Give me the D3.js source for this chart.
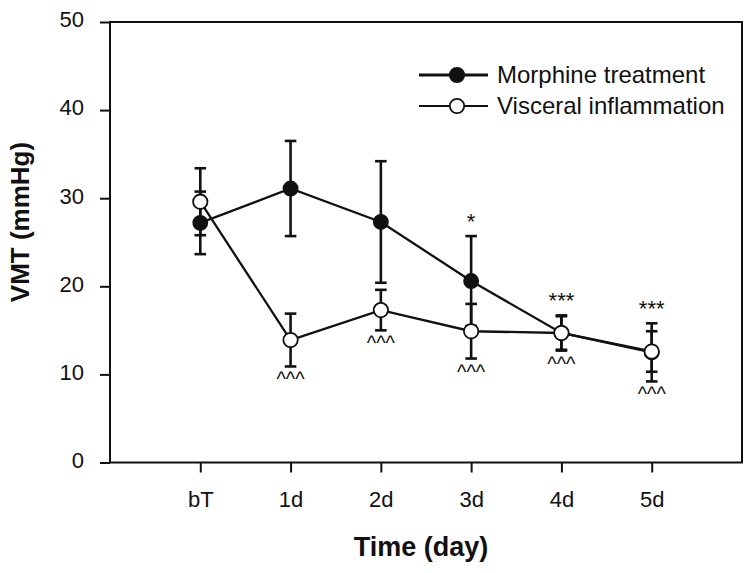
<!DOCTYPE html>
<html><head><meta charset="utf-8">
<script src="https://cdn.jsdelivr.net/npm/d3@7/dist/d3.min.js"></script>
<style>body{margin:0;background:#fff}svg{display:block}text{font-family:"Liberation Sans",Arial,sans-serif;fill:#111}</style>
</head><body><svg id="c" width="754" height="573"></svg>
<script>
const categories = ["bT","1d","2d","3d","4d","5d"];
const morphineMean = [27.2, 31.1, 27.3, 20.6, 14.7, 12.5];
const morphineErr  = [3.55, 5.4, 6.9, 5.1, 2.0, 3.3];
const visceralMean = [29.6, 13.9, 17.3, 14.9, 14.7, 12.6];
const visceralErr  = [3.8, 3.0, 2.3, 3.1, 1.9, 2.3];
const morphineSig  = ["", "", "", "*", "***", "***"];
const visceralSig  = ["", "^^^", "^^^", "^^^", "^^^", "^^^"];
const yTicks = [0, 10, 20, 30, 40, 50];
const seriesNames = ["Morphine treatment", "Visceral inflammation"];

const svg = d3.select("#c");
const L = 110, R = 742, T = 22, B = 462.5;
const x = d3.scaleLinear().domain([-1, 6]).range([L, R]);
const y = d3.scaleLinear().domain([0, 50]).range([B, T]);
const idx = categories.map((c,i)=>i);
const FONT = "Liberation Sans, Arial, sans-serif";

// frame
svg.append("rect").attr("x",L).attr("y",T).attr("width",R-L).attr("height",B-T)
  .attr("fill","none").attr("stroke","#111").attr("stroke-width",2);

// y axis
const ya = svg.append("g").attr("transform",`translate(${L},0)`)
  .call(d3.axisLeft(y).tickValues(yTicks).tickSize(10).tickPadding(16).tickFormat(d3.format("d")));
ya.select(".domain").remove();
ya.selectAll("line").attr("stroke","#111").attr("stroke-width",2);
ya.selectAll("text").attr("font-size",22).attr("dy","0.22em").style("font-family",FONT).attr("fill","#111");

// x axis
const xa = svg.append("g").attr("transform",`translate(0,${B})`)
  .call(d3.axisBottom(x).tickValues(idx).tickSize(10).tickPadding(19).tickFormat(i=>categories[i]));
xa.select(".domain").remove();
xa.selectAll("line").attr("stroke","#111").attr("stroke-width",2);
xa.selectAll("text").attr("font-size",22).style("font-family",FONT).attr("fill","#111");

// titles
svg.append("text").attr("x",421).attr("y",556).attr("text-anchor","middle")
  .attr("font-size",27).attr("font-weight","bold").text("Time (day)");
svg.append("text").attr("transform","translate(29,222) rotate(-90)").attr("text-anchor","middle")
  .attr("font-size",26).attr("font-weight","bold").text("VMT (mmHg)");

const line = d3.line().x((d,i)=>x(i)).y(d=>y(d));
function errBars(mean, err){
  const g = svg.append("g").attr("stroke","#111").attr("stroke-width",2.6);
  mean.forEach((m,i)=>{
    const cx = x(i);
    g.append("line").attr("x1",cx).attr("x2",cx).attr("y1",y(m-err[i])).attr("y2",y(m+err[i]));
    g.append("line").attr("x1",cx-5.8).attr("x2",cx+5.8).attr("y1",y(m-err[i])).attr("y2",y(m-err[i]));
    g.append("line").attr("x1",cx-5.8).attr("x2",cx+5.8).attr("y1",y(m+err[i])).attr("y2",y(m+err[i]));
  });
}
errBars(morphineMean, morphineErr);
errBars(visceralMean, visceralErr);

svg.append("path").datum(morphineMean).attr("d",line).attr("fill","none").attr("stroke","#111").attr("stroke-width",2.3);
svg.append("path").datum(visceralMean).attr("d",line).attr("fill","none").attr("stroke","#111").attr("stroke-width",2.3);

svg.append("g").selectAll("circle").data(morphineMean).join("circle")
  .attr("cx",(d,i)=>x(i)).attr("cy",d=>y(d)).attr("r",7.2).attr("fill","#111").attr("stroke","#111").attr("stroke-width",1.5);
svg.append("g").selectAll("circle").data(visceralMean).join("circle")
  .attr("cx",(d,i)=>x(i)).attr("cy",d=>y(d)).attr("r",7.2).attr("fill","#fff").attr("stroke","#111").attr("stroke-width",1.8);

// significance marks
const topCap = categories.map((c,i)=>Math.max(morphineMean[i]+morphineErr[i], visceralMean[i]+visceralErr[i]));
const lowCap = categories.map((c,i)=>Math.min(morphineMean[i]-morphineErr[i], visceralMean[i]-visceralErr[i]));
morphineSig.forEach((s,i)=>{ if(!s) return;
  svg.append("text").attr("x",x(i)).attr("y",y(topCap[i])-7.5)
    .attr("text-anchor","middle").attr("font-size",22).text(s);
});
visceralSig.forEach((s,i)=>{ if(!s) return;
  svg.append("text").attr("x",x(i)).attr("y",y(lowCap[i])+20)
    .attr("text-anchor","middle").attr("font-size",20).text(s);
});

// legend
const lg = svg.append("g");
[0,1].forEach(k=>{
  const ly = 75 + k*31;
  lg.append("line").attr("x1",419).attr("x2",488).attr("y1",ly).attr("y2",ly).attr("stroke","#111").attr("stroke-width",k?2:3);
  lg.append("circle").attr("cx",457).attr("cy",ly).attr("r",7.2).attr("fill",k?"#fff":"#111").attr("stroke","#111").attr("stroke-width",1.8);
  lg.append("text").attr("x",497).attr("y",ly).attr("dy","0.35em").attr("font-size",24).text(seriesNames[k]);
});
</script></body></html>
